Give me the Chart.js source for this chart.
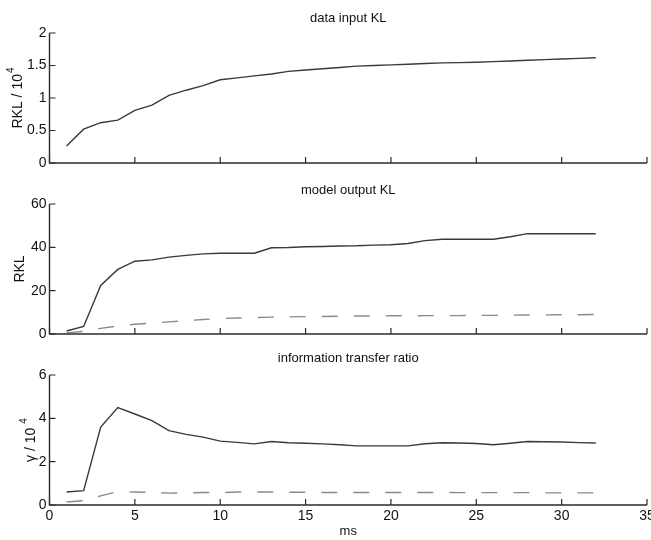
<!DOCTYPE html>
<html>
<head>
<meta charset="utf-8">
<script src="https://cdn.jsdelivr.net/npm/chart.js@4/dist/chart.umd.min.js"></script>
<style>
  body { margin: 0; background: #fff; }
  #wrap { position: relative; width: 651px; height: 540px; }
  canvas { position: absolute; left: 0; }
</style>
</head>
<body>
<div id="wrap">
  <canvas id="c1" width="651" height="180" style="top:0"></canvas>
  <canvas id="c2" width="651" height="170" style="top:180px"></canvas>
  <canvas id="c3" width="651" height="190" style="top:350px"></canvas>
</div>
<script>
// time in ms
const ms = [1,2,3,4,5,6,7,8,9,10,11,12,13,14,15,16,17,18,19,20,21,22,23,24,25,26,27,28,29,30,31,32];

// data input KL (RKL / 10^4)
const inputKL = [0.26,0.52,0.62,0.66,0.81,0.89,1.04,1.12,1.19,1.28,1.31,1.34,1.37,1.41,1.43,1.45,1.47,1.49,1.50,1.51,1.52,1.53,1.54,1.545,1.55,1.56,1.57,1.58,1.59,1.60,1.61,1.62];

// model output KL
const outputKL = [1.4,3.5,22.4,29.8,33.6,34.2,35.5,36.3,37.0,37.3,37.3,37.3,39.8,39.9,40.3,40.4,40.6,40.7,41.0,41.2,41.8,43.1,43.7,43.7,43.7,43.7,44.9,46.3,46.3,46.3,46.3,46.3];
const outputKLref = [0.5,1.2,2.6,3.7,4.5,5.0,5.6,6.2,6.7,7.1,7.4,7.6,7.8,7.9,8.0,8.1,8.2,8.3,8.3,8.4,8.4,8.5,8.5,8.5,8.6,8.6,8.7,8.8,8.8,8.9,8.9,9.0];

// information transfer ratio (gamma / 10^4)
const ratio = [0.60,0.66,3.6,4.5,4.2,3.89,3.43,3.26,3.13,2.95,2.89,2.82,2.93,2.87,2.85,2.82,2.78,2.73,2.73,2.73,2.73,2.83,2.87,2.86,2.84,2.78,2.85,2.93,2.92,2.91,2.88,2.86];
const ratioRef = [0.14,0.20,0.42,0.62,0.60,0.58,0.55,0.56,0.58,0.57,0.60,0.60,0.60,0.59,0.59,0.58,0.58,0.58,0.58,0.58,0.58,0.58,0.58,0.57,0.57,0.57,0.57,0.57,0.56,0.56,0.56,0.56];

// tick labels
const xTicks = [0,5,10,15,20,25,30,35];
const yTicks1 = [0,0.5,1,1.5,2];
const yTicks2 = [0,20,40,60];
const yTicks3 = [0,2,4,6];

const FONT = "'Liberation Sans', Arial, sans-serif";
const AXIS = "#2b2b2b";

// draws MATLAB-like axes: left + bottom lines, inward ticks, labels, title
const axesPlugin = {
  id: "axesPlugin",
  afterDraw(chart) {
    const o = chart.options.plugins.axesPlugin;
    const ctx = chart.ctx;
    const area = chart.chartArea;
    const xs = chart.scales.x, ys = chart.scales.y;
    ctx.save();
    ctx.strokeStyle = AXIS;
    ctx.fillStyle = "#111";
    ctx.lineWidth = 1.4;
    ctx.beginPath();
    ctx.moveTo(area.left, area.top);
    ctx.lineTo(area.left, area.bottom);
    ctx.lineTo(area.right, area.bottom);
    ctx.stroke();
    ctx.lineWidth = 1.2;
    ctx.beginPath();
    xTicks.forEach(v => {
      const px = xs.getPixelForValue(v);
      ctx.moveTo(px, area.bottom);
      ctx.lineTo(px, area.bottom - 6);
    });
    o.yTicks.forEach(v => {
      const py = ys.getPixelForValue(v);
      ctx.moveTo(area.left, py);
      ctx.lineTo(area.left + 6, py);
    });
    ctx.stroke();

    ctx.font = "14px " + FONT;
    ctx.textAlign = "right";
    ctx.textBaseline = "middle";
    o.yTicks.forEach(v => {
      ctx.fillText(String(v), area.left - 3, ys.getPixelForValue(v));
    });
    if (o.showX) {
      ctx.textAlign = "center";
      ctx.textBaseline = "top";
      xTicks.forEach(v => {
        ctx.fillText(String(v), xs.getPixelForValue(v), area.bottom + 4);
      });
      ctx.font = "13px " + FONT;
      ctx.fillText("ms", (xs.getPixelForValue(0) + xs.getPixelForValue(35)) / 2, area.bottom + 20);
    }

    // title
    ctx.font = "13px " + FONT;
    ctx.textAlign = "center";
    ctx.textBaseline = "middle";
    ctx.fillText(o.title, (area.left + area.right) / 2, area.top + o.titleDy);

    // rotated y label with optional superscript
    ctx.translate(o.labelX, (area.top + area.bottom) / 2);
    ctx.rotate(-Math.PI / 2);
    ctx.font = "14px " + FONT;
    const mainW = ctx.measureText(o.label).width;
    ctx.font = "10px " + FONT;
    const supW = o.sup ? ctx.measureText(o.sup).width : 0;
    const total = mainW + supW + (o.sup ? o.supGap : 0);
    ctx.textAlign = "left";
    ctx.textBaseline = "middle";
    ctx.font = "14px " + FONT;
    ctx.fillText(o.label, -total / 2, 0);
    if (o.sup) {
      ctx.font = "10px " + FONT;
      ctx.fillText(o.sup, -total / 2 + mainW + o.supGap, -7);
    }
    ctx.restore();
  }
};

function makeChart(id, datasets, yMax, yTicks, pad, opts) {
  return new Chart(document.getElementById(id), {
    type: "line",
    data: {
      labels: ms,
      datasets: datasets
    },
    options: {
      responsive: false,
      animation: false,
      layout: { padding: pad },
      elements: { point: { radius: 0 }, line: { tension: 0 } },
      scales: {
        x: { type: "linear", min: 0, max: 35, display: false },
        y: { type: "linear", min: 0, max: yMax, display: false }
      },
      plugins: {
        legend: { display: false },
        tooltip: { enabled: false },
        axesPlugin: Object.assign({ yTicks: yTicks }, opts)
      }
    },
    plugins: [axesPlugin]
  });
}

const solid = data => ({
  data: ms.map((x, i) => ({ x: x, y: data[i] })),
  borderColor: "#3a3a3a", borderWidth: 1.4, fill: false
});
const dashed = data => ({
  data: ms.map((x, i) => ({ x: x, y: data[i] })),
  borderColor: "#8a8a8a", borderWidth: 1.4, borderDash: [16, 16], fill: false
});

makeChart("c1", [solid(inputKL)], 2, yTicks1,
  { left: 49.5, right: 4, top: 33, bottom: 17 },
  { title: "data input KL", titleDy: -15, label: "RKL / 10", sup: "4", supGap: 1, labelX: 18, showX: false });

makeChart("c2", [solid(outputKL), dashed(outputKLref)], 60, yTicks2,
  { left: 49.5, right: 4, top: 24, bottom: 16 },
  { title: "model output KL", titleDy: -14, label: "RKL", labelX: 20, showX: false });

makeChart("c3", [solid(ratio), dashed(ratioRef)], 6, yTicks3,
  { left: 49.5, right: 4, top: 25, bottom: 35 },
  { title: "information transfer ratio", titleDy: -17, label: "\u03B3 / 10", sup: "4", supGap: 4, labelX: 31, showX: true });
</script>
</body>
</html>
